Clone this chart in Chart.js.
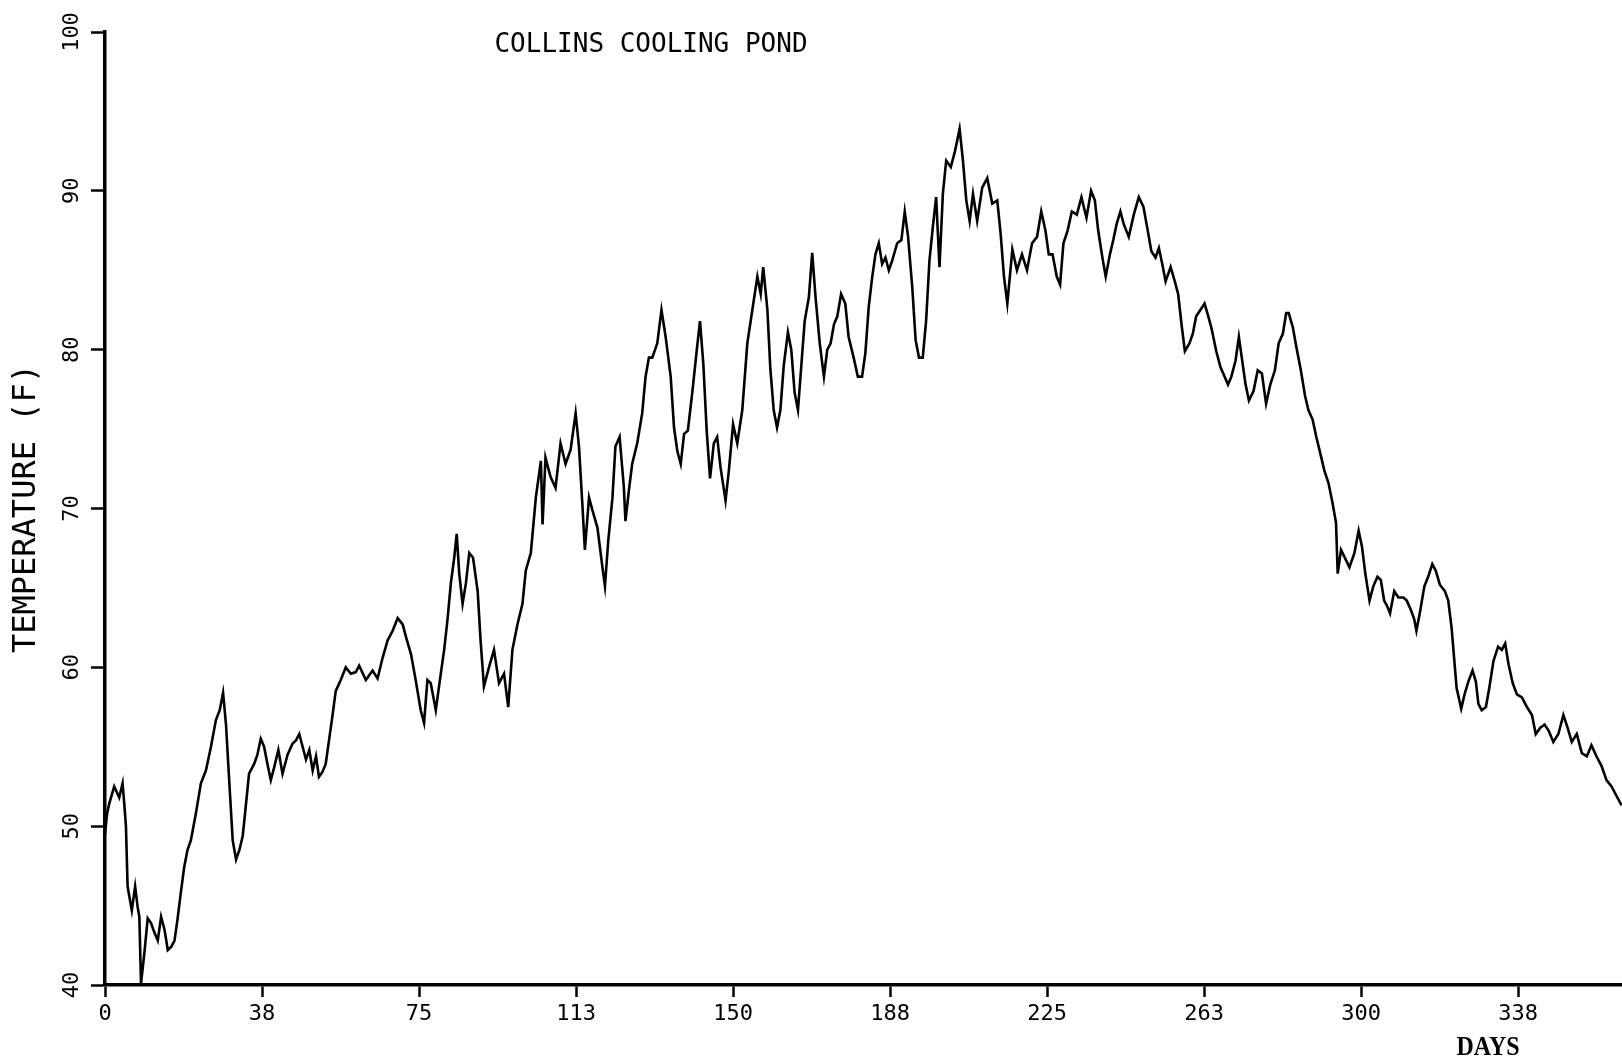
<!DOCTYPE html>
<html>
<head>
<meta charset="utf-8">
<title>Collins Cooling Pond</title>
<script src="https://cdn.jsdelivr.net/npm/chart.js@4/dist/chart.umd.min.js"></script>
<style>
  html, body { margin: 0; padding: 0; background: #ffffff; overflow: hidden; }
  #c { display: block; }
</style>
</head>
<body>
<canvas id="c" width="1622" height="1062"></canvas>
<script>
// ---- Data ----
const chartTitle = "COLLINS COOLING POND";
const yAxisTitle = "TEMPERATURE (F)";
const xAxisTitle = "DAYS";

const xTickValues = [0, 37.5, 75, 112.5, 150, 187.5, 225, 262.5, 300, 337.5];
const xTickLabels = ["0", "38", "75", "113", "150", "188", "225", "263", "300", "338"];
const yTickValues = [40, 50, 60, 70, 80, 90, 100];

const days = [
  0,0.5,1.0,2.2,3.4,4.2,4.6,5.0,5.4,6.4,7.2,7.8,8.2,8.6,9.4,10.2,11.0,11.8,12.6,13.4,14.2,15.0,15.8,16.6,17.3,
  18.1,18.9,19.7,20.5,21.7,22.9,24.1,25.3,26.5,27.4,28.2,28.9,29.7,30.5,31.3,32.1,32.9,33.6,34.4,35.6,36.4,
  37.2,38.0,38.8,39.6,40.4,41.4,42.4,43.6,44.8,45.6,46.4,47.2,48.0,48.8,49.6,50.4,51.1,51.9,52.7,53.5,54.3,
  55.1,56.3,57.5,58.7,
  59.9,60.7,62.3,63.9,65.1,66.3,67.5,68.7,69.9,71.1,71.9,73.1,74.2,75.4,76.2,77.0,77.8,79.0,80.2,81.0,81.8,
  82.6,83.4,84.0,84.6,85.4,86.2,87.0,87.9,89.0,89.7,90.5,91.7,92.9,94.1,95.3,96.3,97.3,98.5,99.7,100.5,101.7,
  102.9,104.1,104.5,105.2,106.4,107.6,108.8,110.0,111.2,112.4,113.2,114.0,114.6,115.6,116.4,117.6,118.8,119.4,120.2,
  121.2,121.9,122.9,123.9,124.3,125.1,125.9,127.1,128.3,129.1,129.9,130.7,131.9,132.9,133.9,135.1,135.9,136.7,
  137.5,138.3,139.2,140.3,141.3,142.1,142.9,143.7,144.5,145.4,146.2,147.0,148.2,149.0,150.0,151.0,152.2,153.4,
  154.6,155.8,156.6,157.2,158.2,158.9,159.7,160.5,161.3,162.1,163.1,163.9,164.7,165.5,166.3,167.1,168.1,168.9,
  169.7,170.7,171.7,172.5,173.3,174.1,174.9,175.8,176.8,177.6,178.8,179.8,180.8,
  181.6,182.4,183.2,184.0,184.8,185.6,186.4,187.2,188.0,189.2,190.2,191.0,191.8,192.8,193.6,194.4,195.3,196.1,
  196.9,197.7,198.5,199.3,200.1,200.9,202.0,203.0,204.1,204.9,205.7,206.5,207.3,208.3,209.5,210.7,211.9,213.1,
  213.9,214.7,215.5,216.7,217.8,219.0,220.2,221.4,222.6,223.6,224.6,225.4,226.3,227.3,228.1,228.9,229.9,230.9,
  232.1,233.2,234.4,235.5,236.4,237.2,238.2,239.0,240.0,240.8,241.6,
  242.5,243.3,244.5,245.7,246.9,248.0,248.9,249.9,250.9,251.7,252.5,253.3,254.5,255.5,256.3,257.1,257.9,259.0,
  259.8,260.6,261.6,262.6,263.5,264.3,265.4,266.4,267.4,268.2,269.0,270.0,270.8,271.6,272.4,273.2,274.3,275.3,
  276.3,277.3,278.3,279.4,280.3,281.3,282.1,282.7,283.7,284.5,285.6,286.6,287.4,288.4,289.3,290.4,291.2,292.2,
  293.2,294.0,294.4,295.2,296.3,297.2,298.4,299.4,300.2,301.0,302.0,302.9,303.9,
  304.7,305.5,306.3,306.9,307.9,308.9,310.1,310.9,311.9,312.7,313.2,314.0,315.1,316.0,317.0,317.8,318.8,320.0,
  320.8,321.6,322.2,322.8,323.9,324.7,325.6,326.6,327.4,328.0,328.8,329.8,330.6,331.6,332.7,333.6,334.4,335.2,
  336.2,337.2,338.4,339.6,340.8,341.7,342.8,343.8,344.8,345.9,347.1,348.3,349.3,350.3,351.5,352.7,353.9,355.0,
  356.2,357.4,358.6,359.8,361.0,362.2
];

const temps = [
  49.5,50.8,51.4,52.5,51.8,52.7,51.4,50.0,46.2,44.7,46.2,44.9,44.3,40.1,42.0,44.2,43.9,43.3,42.8,44.3,43.5,42.2,42.4,42.8,44.1,
  45.8,47.4,48.5,49.1,50.8,52.7,53.5,55.0,56.7,57.3,58.4,56.4,52.7,49.1,47.9,48.5,49.4,51.2,53.3,53.9,54.5,
  55.5,55.0,53.9,52.9,53.7,54.8,53.3,54.5,55.2,55.4,55.8,55.0,54.2,54.8,53.5,54.4,53.1,53.4,53.9,55.4,56.9,
  58.5,59.2,60.0,59.6,
  59.7,60.1,59.2,59.8,59.3,60.6,61.7,62.3,63.1,62.7,61.9,60.8,59.2,57.3,56.5,59.2,59.0,57.3,59.6,61.1,63.0,
  65.3,66.9,68.4,65.9,64.0,65.3,67.2,66.9,64.8,61.7,58.8,60.0,61.1,59.0,59.6,57.5,61.1,62.7,64.0,66.1,67.2,
  70.7,73.0,69.0,73.2,72.0,71.3,74.1,72.8,73.7,76.0,73.9,70.3,67.4,70.7,69.9,68.8,66.3,65.1,68.0,
  70.7,73.9,74.5,71.4,69.2,71.1,72.8,74.1,76.0,78.3,79.5,79.5,80.4,82.5,80.8,78.3,75.1,73.6,
  72.8,74.7,74.9,77.4,79.9,81.8,79.1,74.9,71.9,74.1,74.5,72.6,70.5,72.4,75.3,74.1,76.2,80.4,
  82.5,84.6,83.5,85.2,82.5,78.8,76.2,75.1,76.2,79.0,81.1,80.0,77.3,76.2,79.0,81.8,83.3,86.1,
  83.3,80.4,78.3,80.0,80.4,81.6,82.1,83.5,82.9,80.8,79.5,78.3,78.3,
  79.8,82.7,84.5,86.0,86.7,85.4,85.8,85.0,85.6,86.7,86.9,88.7,87.1,83.9,80.6,79.5,79.5,81.8,
  85.6,87.7,89.6,85.2,89.8,91.9,91.5,92.5,93.9,91.9,89.4,88.1,89.8,88.1,90.2,90.8,89.2,89.4,
  87.3,84.6,82.9,86.3,85.0,86.0,85.0,86.7,87.1,88.7,87.5,86.0,86.0,84.6,84.1,86.7,87.5,88.7,
  88.5,89.6,88.3,90.0,89.4,87.5,85.8,84.6,86.0,86.9,87.9,
  88.7,87.9,87.1,88.5,89.6,89.0,87.7,86.2,85.8,86.4,85.4,84.3,85.2,84.3,83.5,81.6,79.9,80.4,
  81.0,82.1,82.5,82.9,82.1,81.3,79.9,78.9,78.3,77.8,78.3,79.3,80.8,79.3,77.8,76.8,77.4,78.7,
  78.5,76.6,77.8,78.7,80.4,81.0,82.3,82.3,81.4,80.2,78.7,77.1,76.2,75.6,74.5,73.3,72.4,71.6,
  70.3,69.1,65.9,67.4,66.8,66.3,67.2,68.6,67.6,65.9,64.2,65.1,65.7,
  65.5,64.2,63.8,63.4,64.8,64.4,64.4,64.2,63.6,63.0,62.3,63.4,65.1,65.7,66.5,66.1,65.2,64.8,
  64.2,62.5,60.6,58.7,57.4,58.3,59.1,59.8,59.1,57.7,57.3,57.5,58.7,60.4,61.3,61.1,61.5,60.2,
  59.0,58.3,58.1,57.5,57.0,55.8,56.2,56.4,56.0,55.3,55.8,57.0,56.2,55.3,55.8,54.6,54.4,55.1,
  54.4,53.8,52.9,52.5,51.9,51.3
];

const xMin = 0, xMax = 362.3;
const yMin = 40, yMax = 100;

// ---- Build chart ----
const points = days.map((d, i) => ({ x: d, y: temps[i] }));

const monoFont = '"DejaVu Sans Mono", "Liberation Mono", monospace';

const annotationText = {
  id: 'annotationText',
  afterDraw(chart) {
    const ctx = chart.ctx;
    const area = chart.chartArea;
    ctx.save();
    ctx.fillStyle = '#000';
    ctx.textAlign = 'center';
    ctx.textBaseline = 'middle';
    ctx.font = '26px ' + monoFont;
    ctx.fillText(chartTitle, area.left + 546, area.top + 13);
    ctx.translate(area.left + 1383, area.bottom + 63);
    ctx.scale(1, 1.18);
    ctx.font = 'bold 24px "Liberation Serif", "DejaVu Serif", serif';
    ctx.fillText(xAxisTitle, 0, 0);
    ctx.restore();
  }
};

new Chart(document.getElementById('c'), {
  type: 'line',
  data: {
    datasets: [{
      data: points,
      borderColor: '#000',
      borderWidth: 2.6,
      pointRadius: 0,
      tension: 0,
      fill: false
    }]
  },
  options: {
    responsive: false,
    animation: false,
    events: [],
    layout: { padding: { top: 32, left: 0, right: 0, bottom: 0 } },
    plugins: {
      legend: { display: false },
      title: { display: false },
      tooltip: { enabled: false }
    },
    scales: {
      x: {
        type: 'linear',
        min: xMin,
        max: xMax,
        afterBuildTicks(scale) { scale.ticks = xTickValues.map(v => ({ value: v })); },
        afterFit(scale) { scale.height = 77; },
        ticks: {
          autoSkip: false,
          maxRotation: 0,
          minRotation: 0,
          padding: 4,
          color: '#000',
          font: { family: monoFont, size: 22 },
          callback(value) {
            const i = xTickValues.indexOf(value);
            return i >= 0 ? xTickLabels[i] : '';
          }
        },
        grid: {
          display: true,
          drawOnChartArea: false,
          drawTicks: true,
          tickLength: 12,
          tickWidth: 2.5,
          tickColor: '#000'
        },
        border: { display: true, color: '#000', width: 3.5 }
      },
      y: {
        type: 'linear',
        min: yMin,
        max: yMax,
        afterBuildTicks(scale) { scale.ticks = yTickValues.map(v => ({ value: v })); },
        afterFit(scale) { scale.width = 105; },
        ticks: {
          autoSkip: false,
          minRotation: 90,
          maxRotation: 90,
          crossAlign: 'center',
          padding: -1.5,
          color: '#000',
          font: { family: monoFont, size: 22 }
        },
        title: {
          display: true,
          text: yAxisTitle,
          color: '#000',
          font: { family: monoFont, size: 32 },
          padding: { top: 7, bottom: 0 }
        },
        grid: {
          display: true,
          drawOnChartArea: false,
          drawTicks: true,
          tickLength: 14,
          tickWidth: 2.5,
          tickColor: '#000'
        },
        border: { display: true, color: '#000', width: 3.5 }
      }
    }
  },
  plugins: [annotationText]
});
</script>
</body>
</html>
